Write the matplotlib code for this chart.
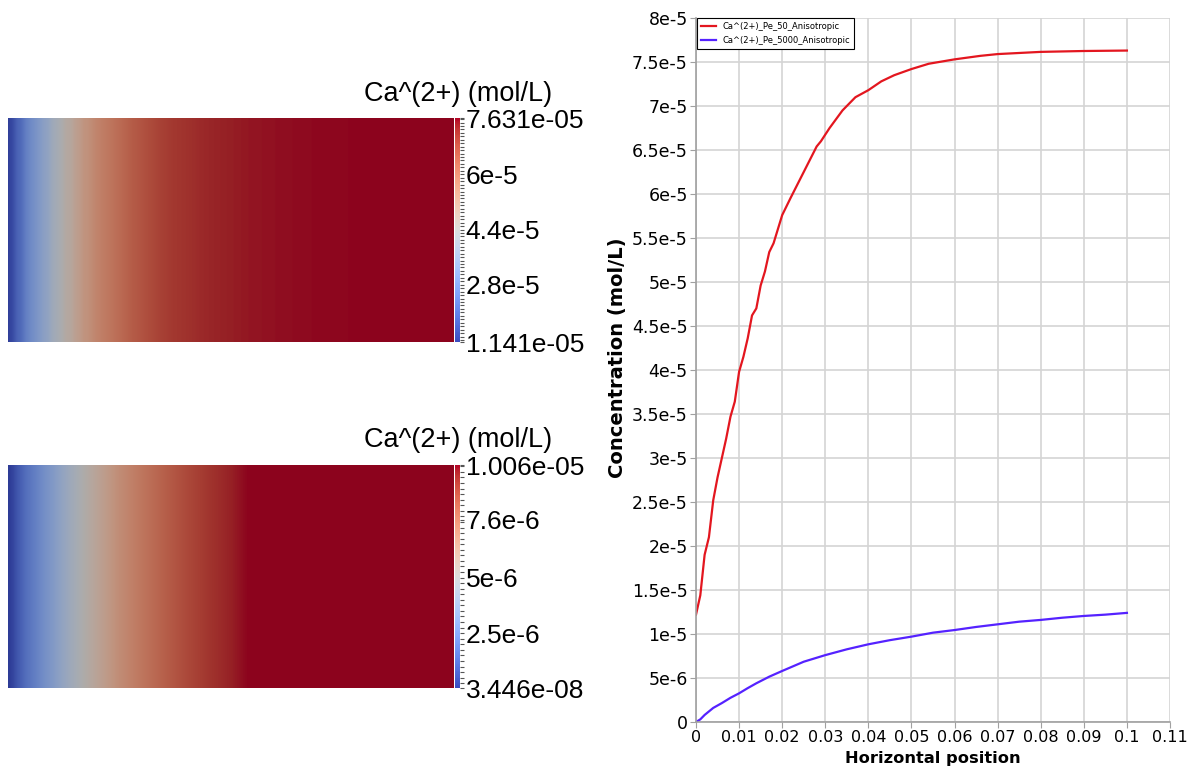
import numpy as np
import matplotlib.pyplot as plt
from matplotlib import colors, cm
from matplotlib.ticker import FixedLocator, MultipleLocator

# line data (x in m, concentration in mol/L)
red_x = [0, 0.001, 0.002, 0.003, 0.004, 0.005, 0.006, 0.007, 0.008, 0.009, 0.010,
         0.011, 0.012, 0.013, 0.014, 0.015, 0.016, 0.017, 0.018, 0.019, 0.020, 0.022,
         0.025, 0.028, 0.029, 0.031, 0.034, 0.037, 0.040, 0.043, 0.046, 0.050, 0.054,
         0.060, 0.066, 0.070, 0.080, 0.090, 0.100]
red_y = [1.22e-5, 1.44e-5, 1.90e-5, 2.10e-5, 2.52e-5, 2.78e-5, 3.00e-5, 3.22e-5, 3.47e-5,
         3.64e-5, 3.98e-5, 4.15e-5, 4.36e-5, 4.62e-5, 4.70e-5, 4.96e-5, 5.12e-5, 5.34e-5,
         5.44e-5, 5.60e-5, 5.76e-5, 5.96e-5, 6.25e-5, 6.54e-5, 6.60e-5, 6.75e-5, 6.95e-5,
         7.10e-5, 7.18e-5, 7.28e-5, 7.35e-5, 7.42e-5, 7.48e-5, 7.53e-5, 7.57e-5, 7.59e-5,
         7.615e-5, 7.625e-5, 7.63e-5]

blue_x = [0, 0.001, 0.002, 0.004, 0.006, 0.008, 0.010, 0.012, 0.014, 0.017, 0.020,
          0.025, 0.030, 0.035, 0.040, 0.045, 0.050, 0.055, 0.060, 0.065, 0.070, 0.075,
          0.080, 0.085, 0.090, 0.095, 0.100]
blue_y = [0.0, 0.3e-6, 0.8e-6, 1.6e-6, 2.15e-6, 2.75e-6, 3.26e-6, 3.85e-6, 4.4e-6,
          5.15e-6, 5.8e-6, 6.85e-6, 7.6e-6, 8.26e-6, 8.83e-6, 9.3e-6, 9.7e-6, 10.15e-6,
          10.45e-6, 10.8e-6, 11.1e-6, 11.4e-6, 11.6e-6, 11.85e-6, 12.05e-6, 12.2e-6, 12.4e-6]

series_names = ['Ca^(2+)_Pe_50_Anisotropic', 'Ca^(2+)_Pe_5000_Anisotropic']

xticks = [0, 0.01, 0.02, 0.03, 0.04, 0.05, 0.06, 0.07, 0.08, 0.09, 0.1, 0.11]
xtick_labels = ['0', '0.01', '0.02', '0.03', '0.04', '0.05', '0.06', '0.07', '0.08',
                '0.09', '0.1', '0.11']
yticks = [0, 5e-6, 1e-5, 1.5e-5, 2e-5, 2.5e-5, 3e-5, 3.5e-5, 4e-5, 4.5e-5, 5e-5,
          5.5e-5, 6e-5, 6.5e-5, 7e-5, 7.5e-5, 8e-5]
ytick_labels = ['0', '5e-6', '1e-5', '1.5e-5', '2e-5', '2.5e-5', '3e-5', '3.5e-5', '4e-5',
                '4.5e-5', '5e-5', '5.5e-5', '6e-5', '6.5e-5', '7e-5', '7.5e-5', '8e-5']

# colour bar ranges / labels of the two field views
top_range = (1.141e-5, 7.631e-5)
top_ticks = [1.141e-5, 2.8e-5, 4.4e-5, 6e-5, 7.631e-5]
top_labels = ['1.141e-05', '2.8e-5', '4.4e-5', '6e-5', '7.631e-05']
bot_range = (3.446e-8, 1.006e-5)
bot_ticks = [3.446e-8, 2.5e-6, 5e-6, 7.6e-6, 1.006e-5]
bot_labels = ['3.446e-08', '2.5e-6', '5e-6', '7.6e-6', '1.006e-05']
field_title = 'Ca^(2+) (mol/L)'

W, H = 1193, 768
fig = plt.figure(figsize=(W / 100, H / 100), dpi=100)
cmap = plt.get_cmap('coolwarm')


def px(x0, y0, x1, y1):
    return [x0 / W, 1 - y1 / H, (x1 - x0) / W, (y1 - y0) / H]


def field(box, cbox, lx, ly, vrange, ticks, labels, minor, title_y):
    ax = fig.add_axes(px(*box))
    xs = np.linspace(0, 0.1, 1200)
    vals = np.interp(xs, lx, ly)
    norm = colors.Normalize(*vrange, clip=True)
    rgb = cmap(norm(vals))[:, :3] * 0.78  # darker, like the lit surface
    img = np.repeat(rgb[None, :, :], 2, axis=0)
    ax.imshow(img, aspect='auto', extent=(0, 0.1, 0, 1), interpolation='bilinear')
    ax.set_axis_off()

    cax = fig.add_axes(px(*cbox))
    cb = fig.colorbar(cm.ScalarMappable(norm=colors.Normalize(*vrange), cmap=cmap), cax=cax)
    cb.outline.set_visible(False)
    cb.set_ticks(ticks)
    cb.set_ticklabels(labels)
    cax.yaxis.set_minor_locator(MultipleLocator(minor))
    cax.tick_params(which='both', length=3, width=0.8, color='#555555', pad=1,
                    labelsize=19, labelcolor='black')
    for t in cax.get_yticklabels():
        t.set_family('Liberation Sans')
    fig.text(458 / W, 1 - title_y / H, field_title, ha='center', va='baseline',
             fontsize=19.5, family='Liberation Sans')


field((8, 118, 454, 342), (455, 118, 460, 342), red_x, red_y, top_range,
      top_ticks, top_labels, 1e-6, 101)
field((8, 465, 454, 688), (455, 465, 460, 688), blue_x, blue_y, bot_range,
      bot_ticks, bot_labels, 2.5e-7, 447)

# line chart
ax = fig.add_axes(px(696, 18, 1170, 722))
ax.plot(red_x, red_y, color='#e3161f', lw=1.6, label=series_names[0])
ax.plot(blue_x, blue_y, color='#5522ff', lw=1.6, label=series_names[1])
ax.set_xlim(0, 0.11)
ax.set_ylim(0, 8e-5)
ax.xaxis.set_major_locator(FixedLocator(xticks))
ax.set_xticklabels(xtick_labels)
ax.yaxis.set_major_locator(FixedLocator(yticks))
ax.set_yticklabels(ytick_labels)
ax.grid(True, color='#d4d4d4', lw=1.2)
ax.set_axisbelow(True)
for s in ['top', 'right']:
    ax.spines[s].set_visible(False)
for s in ['left', 'bottom']:
    ax.spines[s].set_color('#a0a0a0')
    ax.spines[s].set_linewidth(1.2)
ax.tick_params(length=4, color='#a0a0a0', pad=2)
ax.tick_params(axis='x', labelsize=11.5)
ax.tick_params(axis='y', labelsize=12.5)
ax.set_xlabel('Horizontal position', fontsize=11.7, fontweight='bold', labelpad=4)
ax.set_ylabel('Concentration (mol/L)', fontsize=14, fontweight='bold')
ax.yaxis.set_label_coords(-0.146, 0.518)
leg = ax.legend(loc='upper left', bbox_to_anchor=(0.002, 1.0), borderaxespad=0,
                fontsize=6, fancybox=False, framealpha=1, edgecolor='black',
                handlelength=1.8, borderpad=0.45, labelspacing=0.6)
leg.get_frame().set_linewidth(0.8)

fig.savefig('out.png', dpi=100)
